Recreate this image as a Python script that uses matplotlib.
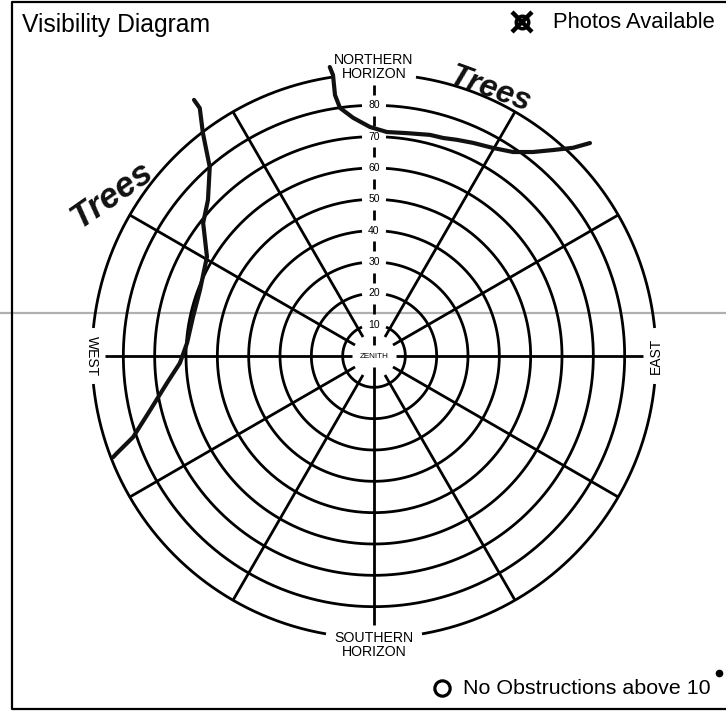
import numpy as np
import matplotlib.pyplot as plt

plt.rcParams['font.family'] = ['Liberation Sans', 'DejaVu Sans']

# ring labels (zenith angle rings, 10 deg apart, horizon = 90)
ring_labels = [10, 20, 30, 40, 50, 60, 70, 80]
ring_vals = [10, 20, 30, 40, 50, 60, 70, 80, 90]
spoke_az = [30, 60, 120, 150, 210, 240, 300, 330]  # deg from north, clockwise

# hand drawn tree lines: (azimuth deg, zenith value)
trees_w_az = [324.9, 324.9, 322.5, 319.0, 313.2, 307.9, 300.7, 290.8, 282.2,
              274.0, 267.9, 262.6, 256.4, 251.4, 249.3, 248.8]
trees_w_z = [99.9, 96.7, 89.7, 79.9, 72.7, 69.1, 62.0, 59.4, 59.1,
             59.8, 62.0, 66.6, 73.5, 81.1, 87.7, 89.3]
trees_n_az = [351.3, 351.7, 351.5, 352.2, 355.0, 359.0, 3.3, 8.4, 14.2,
              17.6, 21.0, 24.9, 29.8, 34.3, 37.9, 41.0, 43.7, 45.4]
trees_n_z = [93.3, 90.6, 84.2, 79.9, 76.3, 73.1, 71.6, 71.9, 72.8,
             73.0, 73.9, 75.0, 76.5, 78.8, 82.5, 87.1, 91.9, 96.8]

W, H = 726, 719
cx, cy = 374, 356
R = 282.0  # pixel radius of horizon
k = R / 90.0
lw = 2.0

fig = plt.figure(figsize=(W/100, H/100), dpi=100)
ax = fig.add_axes([0, 0, 1, 1])
ax.set_xlim(0, W)
ax.set_ylim(H, 0)
ax.axis('off')

def pt(az, z):
    a = np.radians(np.asarray(az, dtype=float))
    r = np.asarray(z, dtype=float) * k
    return cx + r*np.sin(a), cy - r*np.cos(a)

def arc(z, a1, a2, **kw):
    a = np.linspace(a1, a2, 400)
    x, y = pt(a, np.full_like(a, z))
    ax.plot(x, y, color='black', lw=lw, solid_capstyle='butt', **kw)

def radial(az, z1, z2, **kw):
    x, y = pt([az, az], [z1, z2])
    ax.plot(x, y, color='black', lw=lw, solid_capstyle='butt', **kw)

# scanner streak
ax.plot([0, W], [313, 313], color='#b0b0b0', lw=1.6, zorder=0)

# frame (right edge is cut off in the scan)
ax.plot([W, 12, 12, W], [2, 2, 709, 709], color='black', lw=1.6)

# rings with a gap at the top for the number
for z in ring_vals[:-1]:
    g = np.degrees(np.arcsin(min(12/(z*k), 1)))
    arc(z, g, 360-g)
    ax.text(cx, cy - z*k, str(z), ha='center', va='center', fontsize=7.5)

# horizon ring, broken for the four labels
gn = np.degrees(np.arcsin(42/R))
ge = np.degrees(np.arcsin(28/R))
gs = np.degrees(np.arcsin(48/R))
arc(90, gn, 90-ge)
arc(90, 90+ge, 180-gs)
arc(90, 180+gs, 270-ge)
arc(90, 270+ge, 360-gn)

# spokes
for a in spoke_az:
    radial(a, 7, 90)
radial(90, 7, 86)
radial(270, 7, 86)
radial(180, 3.5, 86)
# dashed north spoke between the labels
for z1, z2 in zip([0] + ring_labels, ring_labels + [90]):
    m = (z1 + z2) / 2
    h = 1.6 if z1 > 0 else 1.4
    radial(0, m - h, m + h)

ax.text(cx, cy, 'ZENITH', ha='center', va='center', fontsize=5.8)
ax.text(cx, cy - R - 7, 'NORTHERN\nHORIZON', ha='center', va='center',
        fontsize=10.2, linespacing=1.0)
ax.text(cx, cy + R + 7, 'SOUTHERN\nHORIZON', ha='center', va='center',
        fontsize=10.2, linespacing=1.0)
ax.text(cx - R, cy, 'WEST', ha='center', va='center', fontsize=10, rotation=-90)
ax.text(cx + R, cy, 'EAST', ha='center', va='center', fontsize=10, rotation=90)

# header and legend
ax.text(22, 25, 'Visibility Diagram', ha='left', va='center', fontsize=17.8)
ax.plot([522], [22], marker='o', ms=9, mfc='none', mec='black', mew=2.5)
ax.plot([522], [22], marker='x', ms=15, mec='black', mew=3.2)
ax.text(553, 22, 'Photos Available', ha='left', va='center', fontsize=15.8)
ax.plot([442], [688], marker='o', ms=11, mfc='none', mec='black', mew=2.3)
ax.text(463, 688, 'No Obstructions above 10', ha='left', va='center', fontsize=15.4)
ax.plot([719], [673], marker='o', ms=4.5, color='black')

# hand drawn tree lines
x, y = pt(trees_w_az, trees_w_z)
ax.plot(x, y, color='#111111', lw=3.0, solid_capstyle='round', solid_joinstyle='round')
x, y = pt(trees_n_az, trees_n_z)
ax.plot(x, y, color='#111111', lw=3.0, solid_capstyle='round', solid_joinstyle='round')
ax.text(112, 195, 'Trees', ha='center', va='center', fontsize=25, rotation=35,
        fontstyle='italic', fontweight='bold', color='#111111')
ax.text(490, 90, 'Trees', ha='center', va='center', fontsize=23, rotation=-20,
        fontstyle='italic', fontweight='bold', color='#111111')

plt.savefig('out.png', dpi=100)
